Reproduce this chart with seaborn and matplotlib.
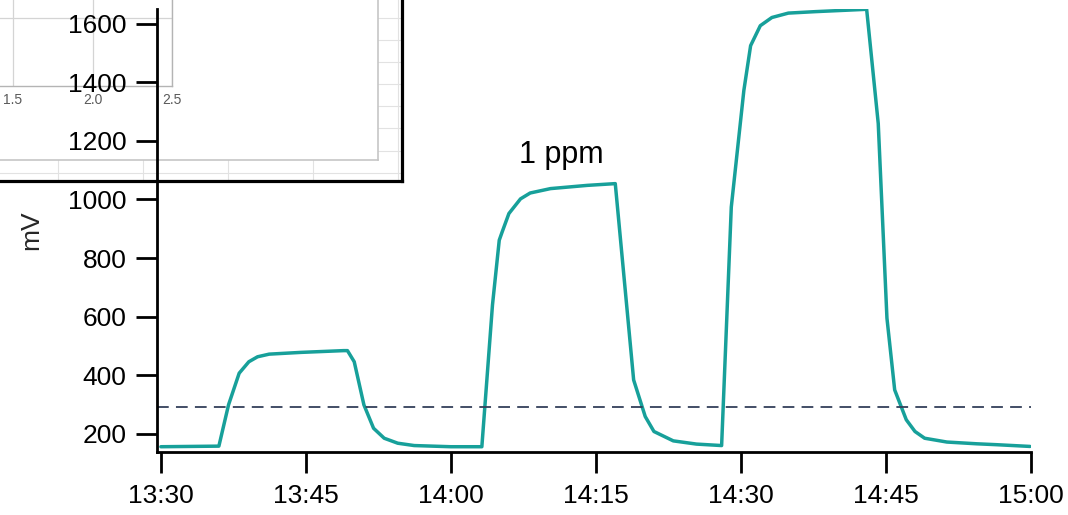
import matplotlib
matplotlib.use("Agg")
import matplotlib.pyplot as plt
import matplotlib.dates as mdates
from matplotlib.ticker import MultipleLocator, FixedLocator
import seaborn as sns
import pandas as pd

# ---------------- data ----------------
start_time = "2024-01-01 13:30"
elapsed_min = [0.0, 6.0, 7.0, 8.1, 9.1, 10.0, 11.2, 14.5, 18.9, 19.3, 20.0, 21.0, 22.0, 23.1, 24.5, 26.2, 30.0, 33.2,
               34.3, 35.0, 35.3, 36.0, 37.2, 38.2, 40.3, 44.1, 47.0, 48.9, 50.1, 51.0, 53.0, 55.4, 58.0,
               59.0, 60.3, 61.0, 62.0, 63.2, 64.9, 67.7, 73.0, 74.2, 75.1, 75.9, 77.1, 78.0, 79.0, 81.3, 84.4, 86.4, 89.9]
signal_mv = [156, 158, 299, 407, 446, 463, 472, 478, 484, 484, 446, 299, 219, 185, 168, 160, 156, 156,
             640, 861, 889, 952, 1002, 1022, 1037, 1048, 1054, 384, 259, 208, 176, 165, 160,
             974, 1372, 1525, 1593, 1621, 1636, 1641, 1649, 1259, 595, 350, 248, 208, 185, 172, 166, 163, 157]
threshold_mv = 292
annotation_text = "1 ppm"
annotation_min = 41.4
annotation_mv = 1150
y_ticks = [200, 400, 600, 800, 1000, 1200, 1400, 1600]
y_label = "mV"
inset_xticks = [1.5, 2.0, 2.5]
inset_xticklabels = ["1.5", "2.0", "2.5"]

# ---------------- setup ----------------
sns.set_theme(style="ticks")
plt.rcParams["font.family"] = ["Liberation Sans", "DejaVu Sans"]

W, H = 1068, 515
fig = plt.figure(figsize=(W / 100, H / 100), dpi=100)
fig.patch.set_facecolor("white")

def fx(px):
    return px / W

def fy(py):
    return 1 - py / H

# ---------------- inset (screenshot overlay) ----------------
frame_ax = fig.add_axes([fx(-20), fy(181), fx(402 + 20), (181 + 20) / H], zorder=0)
frame_ax.set_facecolor("white")
frame_ax.set_xlim((-20 - 58) / 85, (402 - 58) / 85)
frame_ax.set_ylim((181 - 18) / 22.1, (-20 - 18) / 22.1)
frame_ax.xaxis.set_major_locator(MultipleLocator(1))
frame_ax.yaxis.set_major_locator(MultipleLocator(1))
frame_ax.grid(True, color="#e2e2e2", linewidth=0.8)
frame_ax.tick_params(length=0, labelbottom=False, labelleft=False)
for s in frame_ax.spines.values():
    s.set_color("black")
    s.set_linewidth(2.3)

panel_ax = fig.add_axes([fx(-20), fy(160), fx(378 + 20), (160 + 20) / H], zorder=1)
panel_ax.set_facecolor("white")
panel_ax.set_xticks([])
panel_ax.set_yticks([])
for s in panel_ax.spines.values():
    s.set_color("#c6c6c6")
    s.set_linewidth(1.2)

inner_ax = fig.add_axes([fx(-60), fy(86), fx(172 + 60), 136 / H], zorder=2)
inner_ax.set_facecolor("white")
inner_ax.set_xlim(1.5 - 73 / 159, 2.5)
inner_ax.set_ylim(0, 2)
inner_ax.xaxis.set_major_locator(FixedLocator(inset_xticks))
inner_ax.set_xticklabels(inset_xticklabels)
inner_ax.yaxis.set_major_locator(FixedLocator([1]))
inner_ax.grid(True, color="#d4d4d4", linewidth=0.9)
inner_ax.tick_params(axis="x", length=0, labelsize=10, labelcolor="#5a5a5a", pad=5)
inner_ax.tick_params(axis="y", length=0, labelleft=False)
for side in ["top", "left"]:
    inner_ax.spines[side].set_visible(False)
for side in ["bottom", "right"]:
    inner_ax.spines[side].set_color("#b4b4b4")
    inner_ax.spines[side].set_linewidth(1.0)

# ---------------- main chart ----------------
ax = fig.add_axes([fx(157), fy(452), fx(1031 - 157), (452 - 9) / H], zorder=3)
ax.patch.set_alpha(0)

t0 = pd.Timestamp(start_time)
df = pd.DataFrame({
    "time": t0 + pd.to_timedelta(elapsed_min, unit="m"),
    "mV": signal_mv,
})
sns.lineplot(data=df, x="time", y="mV", ax=ax, color="#17a09a", linewidth=2.5)

ax.axhline(threshold_mv, color="#34405a", linewidth=1.3, linestyle=(0, (6.5, 4)))

ax.set_xlim(t0 - pd.Timedelta(minutes=0.4), t0 + pd.Timedelta(minutes=90))
ax.set_ylim(138, 1650)
ax.set_yticks(y_ticks)
ax.xaxis.set_major_locator(mdates.MinuteLocator(byminute=[0, 15, 30, 45]))
ax.xaxis.set_major_formatter(mdates.DateFormatter("%H:%M"))

ax.text(t0 + pd.Timedelta(minutes=annotation_min), annotation_mv, annotation_text,
        ha="center", va="center", fontsize=22, color="black")

ax.set_xlabel("")
ax.set_ylabel(y_label, fontsize=19, labelpad=18)
sns.despine(ax=ax)
for side in ["left", "bottom"]:
    ax.spines[side].set_linewidth(2.0)
    ax.spines[side].set_color("black")
ax.tick_params(axis="both", length=15, width=2.0, color="black", labelsize=19, labelcolor="black")
ax.tick_params(axis="y", pad=7)
ax.tick_params(axis="x", pad=8)

fig.savefig("out.png", dpi=100)
